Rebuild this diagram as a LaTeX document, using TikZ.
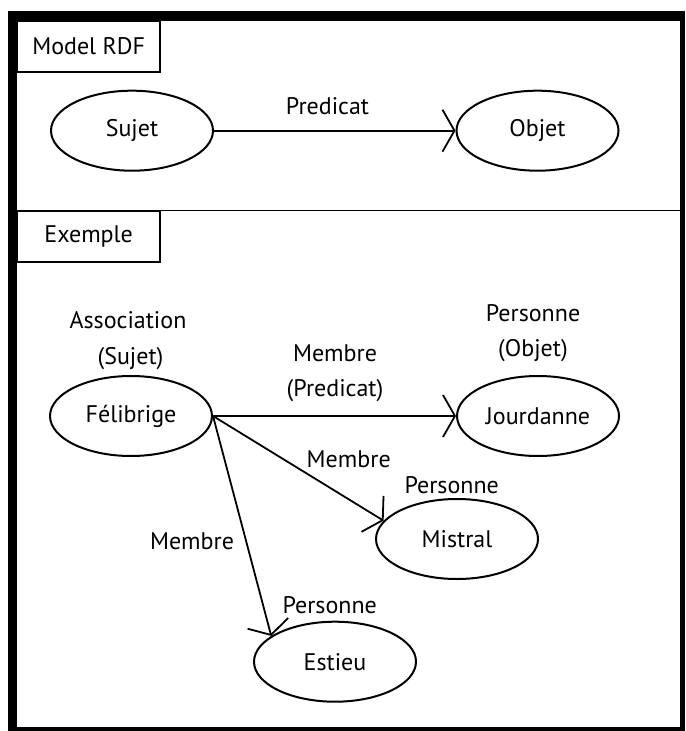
\documentclass[tikz,border=0pt]{standalone}
\usepackage{fontspec}
\setmainfont{PT Sans}
\usetikzlibrary{shapes.geometric,arrows.meta}
\begin{document}
\begin{tikzpicture}[
  x=0.5pt, y=-0.5pt,
  every node/.style={font=\fontsize{12}{14}\selectfont},
  entite/.style={ellipse, draw, line width=1pt, minimum width=81pt, minimum height=40pt, inner sep=0pt},
  etiquette/.style={text height=8.4pt, text depth=0pt, inner sep=0pt},
  titre/.style={draw, line width=0.8pt, anchor=north west, minimum width=71.15pt, minimum height=25.15pt, inner sep=0pt},
  fleche/.style={line width=0.9pt, -{Straight Barb[length=6pt, width=21pt, line width=0.9pt]}}
]
\useasboundingbox[fill=white] (0,0) rectangle (685,731);
\fill[black] (8,11) rectangle (685,731);
\fill[white] (16.7,20.7) rectangle (679.5,726.7);
\draw[line width=0.8pt] (16.7,210.7) -- (679.5,210.7);

\node[titre] (modele) at (16.7,20.7) {Model RDF};
\node[titre] (exemple) at (16.7,210.7) {Exemple};

\node[entite] (sujet) at (132,130.7) {Sujet};
\node[entite] (objet) at (537.5,130.7) {Objet};
\node[etiquette] (predicat) at (327.5,106) {Predicat};
\draw[fleche] (sujet.east) -- (objet.west);

\node[entite] (fel) at (131,416) {Félibrige};
\node[entite] (jou) at (538,416) {Jourdanne};
\node[entite] (mis) at (457,539) {Mistral};
\node[entite] (est) at (335,661.7) {Estieu};

\node[etiquette] (assoc) at (128,320.5) {Association};
\node[etiquette] (rolesujet) at (130.5,355.8) {(Sujet)};
\node[etiquette] (persjou) at (533,313) {Personne};
\node[etiquette] (roleobjet) at (533,348.5) {(Objet)};
\node[etiquette] (membrejou) at (335,353) {Membre};
\node[etiquette] (rolepred) at (335,388.5) {(Predicat)};
\node[etiquette] (membremis) at (348.7,459.5) {Membre};
\node[etiquette] (persmis) at (451.7,485) {Personne};
\node[etiquette] (membreest) at (192,541.3) {Membre};
\node[etiquette] (persest) at (329.7,604.7) {Personne};

\draw[fleche] (fel.east) -- (jou.west);
\draw[fleche] (fel.east) -- (mis.166.5);
\draw[fleche] (fel.east) -- (est.158.7);
\end{tikzpicture}
\end{document}
